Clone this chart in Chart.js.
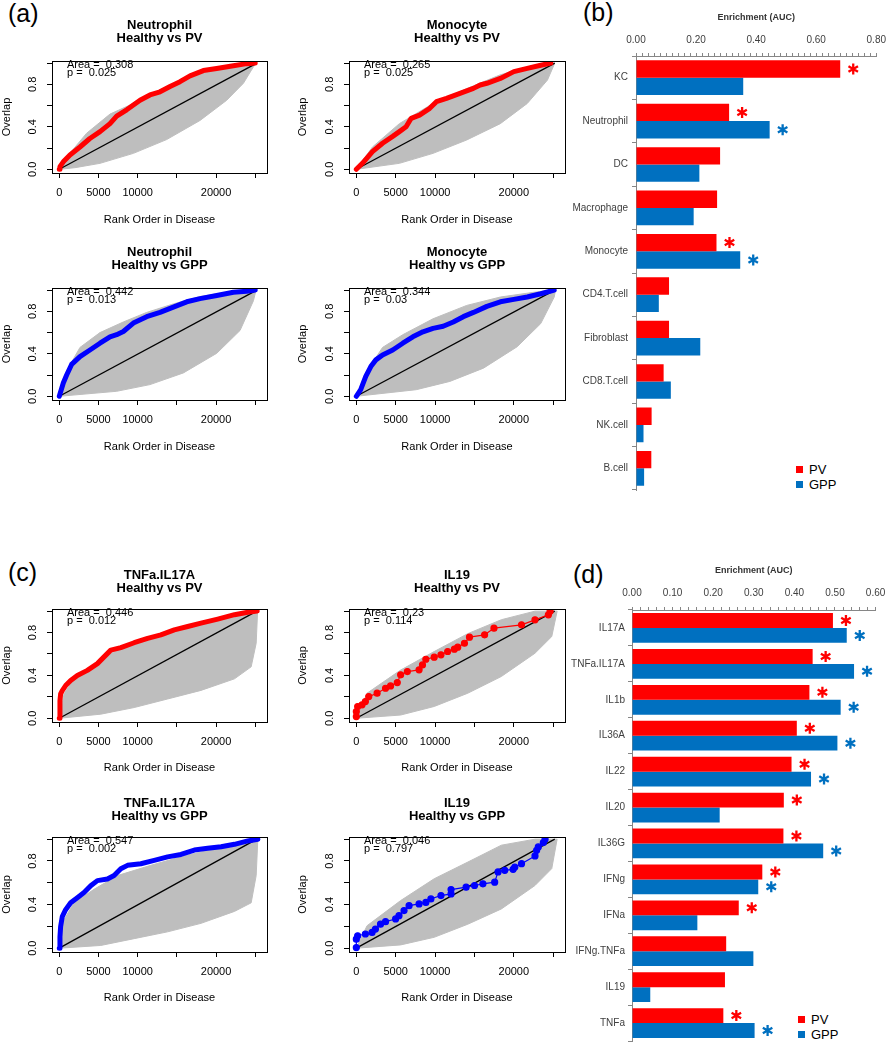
<!DOCTYPE html>
<html lang="en">
<head>
<meta charset="UTF-8">
<title>Enrichment of cell-type and cytokine signatures</title>
<script src="https://cdn.jsdelivr.net/npm/chart.js@4"></script>
<style>
    body { margin: 0; background: #fff; }
    #page { position: relative; width: 893px; height: 1050px; overflow: hidden; font-family: "Liberation Sans", Arial, sans-serif; }
    #page canvas, .lbl, .leg { position: absolute; }
    .lbl { font-size: 25px; line-height: 25px; color: #000; }
    .leg { font-size: 13px; line-height: 15px; color: #000; }
    .leg span { display: inline-block; width: 7px; height: 7px; margin-right: 6px; vertical-align: 1px; }
</style>
</head>
<body>
<div id="page">
    <div class="lbl" style="left:8px;top:1px">(a)</div>
    <div class="lbl" style="left:583px;top:0px">(b)</div>
    <div class="lbl" style="left:8px;top:560px">(c)</div>
    <div class="lbl" style="left:573px;top:562px">(d)</div>
    <div class="leg" style="left:796px;top:462px"><div><span style="background:#FF0000"></span>PV</div><div><span style="background:#0070C0"></span>GPP</div></div>
    <div class="leg" style="left:798px;top:1012px"><div><span style="background:#FF0000"></span>PV</div><div><span style="background:#0070C0"></span>GPP</div></div>
</div>

<script>
// ---- rank / overlap curves (rank in disease, overlap) ----
const NEUT_PV = [[0,0],[85,0.025],[510,0.07],[1360,0.135],[2640,0.21],[3900,0.29],[5200,0.355],[6470,0.43],[7320,0.5],[8600,0.56],[10300,0.65],[11570,0.7],[12850,0.73],[14130,0.78],[15400,0.825],[16680,0.88],[18380,0.93],[20080,0.95],[22210,0.975],[23900,0.995],[25000,1.0]];
const NEUT_PV_HI = [[0,0],[1000,0.12],[3490,0.34],[6470,0.52],[9450,0.62],[12850,0.75],[15830,0.84],[20090,0.95],[25000,1.0]];
const NEUT_PV_LO = [[0,0],[2000,0.015],[5200,0.056],[9450,0.15],[13700,0.28],[17960,0.46],[21360,0.65],[23490,0.81],[24770,0.965],[25200,1.0]];

const MONO_PV = [[0,0],[770,0.056],[2050,0.166],[3330,0.245],[4620,0.31],[5470,0.355],[6320,0.4],[6970,0.48],[8030,0.51],[9320,0.574],[10170,0.637],[11450,0.668],[13160,0.715],[14870,0.762],[15730,0.794],[16580,0.81],[18290,0.856],[20000,0.92],[21710,0.95],[23420,0.98],[24700,1.0]];
const MONO_PV_HI = [[0,0],[2050,0.21],[5470,0.43],[9740,0.62],[14020,0.76],[18290,0.89],[22560,0.98],[25200,1.0]];
const MONO_PV_LO = [[0,0],[5470,0.056],[9740,0.15],[14020,0.276],[18290,0.43],[21710,0.62],[24270,0.84],[25200,1.0]];

const NEUT_GPP = [[0,0],[510,0.125],[940,0.2],[1570,0.3],[2640,0.374],[3910,0.436],[5190,0.5],[6470,0.56],[7320,0.58],[8170,0.61],[9450,0.69],[11150,0.75],[12850,0.79],[14550,0.84],[16260,0.89],[17960,0.92],[20090,0.95],[22210,0.98],[23910,0.99],[25000,1.0]];
const NEUT_GPP_HI = [[0,0],[940,0.24],[2640,0.46],[5190,0.6],[8170,0.7],[11150,0.79],[14550,0.87],[17960,0.94],[22210,0.99],[25000,1.0]];
const NEUT_GPP_LO = [[0,0],[7320,0.047],[11570,0.11],[15830,0.22],[20090,0.405],[23060,0.62],[24770,0.9],[25100,1.0]];

const MONO_GPP = [[0,0],[555,0.062],[1200,0.187],[1840,0.28],[2480,0.343],[3330,0.39],[4620,0.436],[5900,0.5],[7180,0.56],[8460,0.607],[9740,0.64],[11030,0.66],[12310,0.7],[13590,0.75],[14870,0.79],[16580,0.847],[18290,0.89],[20000,0.913],[21710,0.935],[23420,0.966],[25130,1.0]];
const MONO_GPP_HI = [[0,0],[1200,0.22],[3330,0.46],[5900,0.58],[9740,0.73],[14020,0.856],[18290,0.935],[22560,0.98],[25200,1.0]];
const MONO_GPP_LO = [[0,0],[7610,0.062],[11880,0.14],[16150,0.265],[20430,0.467],[23420,0.685],[25130,0.935],[25300,1.0]];

const TNF17_PV = [[0,0],[85,0.164],[170,0.227],[380,0.258],[810,0.305],[1450,0.353],[2300,0.4],[3580,0.447],[4860,0.51],[5710,0.573],[6570,0.636],[7850,0.66],[9550,0.705],[11260,0.746],[12960,0.778],[14670,0.825],[16380,0.857],[18080,0.888],[20210,0.926],[22350,0.967],[24050,0.989],[25250,1.0]];
const TNF17_PV_HI = [[0,0],[600,0.227],[1880,0.37],[4430,0.48],[6570,0.605],[9550,0.7],[13820,0.81],[18080,0.888],[22350,0.957],[25300,1.0]];
const TNF17_PV_LO = [[0,0],[5290,0.038],[9550,0.1],[13820,0.18],[18080,0.26],[22350,0.368],[24480,0.48],[25120,0.7],[25300,1.0]];

const IL19_PV = [[0,0.016],[0,0.062],[170,0.109],[725,0.125],[1150,0.156],[1580,0.202],[2640,0.234],[3710,0.28],[4350,0.302],[5200,0.333],[5630,0.405],[6480,0.436],[7970,0.452],[8400,0.498],[8830,0.551],[9890,0.57],[10750,0.592],[11600,0.623],[12450,0.645],[12880,0.664],[13730,0.7],[14370,0.757],[16290,0.779],[17480,0.841],[20980,0.872],[22690,0.919],[24390,0.966],[24610,1.0]];
const IL19_PV_HI = [[0,0],[1360,0.234],[5630,0.45],[9890,0.623],[14160,0.79],[18420,0.92],[22690,1.0],[25460,1.0]];
const IL19_PV_LO = [[0,0],[5630,0.03],[9890,0.11],[14160,0.234],[18420,0.39],[22690,0.607],[24820,0.763],[25500,1.0]];

const TNF17_GPP = [[0,0],[85,0.103],[170,0.197],[380,0.29],[810,0.353],[1450,0.416],[2300,0.4625],[3160,0.51],[4010,0.572],[4860,0.62],[6140,0.634],[6990,0.666],[7850,0.728],[8700,0.76],[10400,0.775],[12110,0.806],[13820,0.8375],[15520,0.86],[17230,0.9],[18930,0.916],[20640,0.93],[22350,0.953],[24050,0.984],[25330,1.0]];
const TNF17_GPP_HI = [[0,0],[600,0.26],[1880,0.416],[4430,0.54],[7420,0.666],[11680,0.76],[15950,0.847],[20210,0.916],[25330,1.0]];
const TNF17_GPP_LO = [[0,0],[5290,0.025],[9550,0.0875],[13820,0.15],[18080,0.228],[22350,0.3375],[24480,0.416],[25120,0.666],[25330,1.0]];

const IL19_GPP = [[0,0.006],[0,0.083],[170,0.114],[1150,0.13],[2000,0.145],[2430,0.175],[3070,0.22],[3710,0.243],[4990,0.268],[5420,0.298],[6060,0.345],[6700,0.39],[7970,0.406],[8830,0.42],[9470,0.452],[10750,0.483],[12030,0.498],[12030,0.538],[13940,0.56],[15010,0.575],[16080,0.59],[17570,0.606],[18000,0.7],[18850,0.714],[19910,0.723],[20130,0.745],[20980,0.775],[22690,0.846],[22900,0.898],[23110,0.929],[23750,0.969],[23970,1.0]];
const IL19_GPP_HI = [[0,0],[1360,0.206],[5630,0.437],[9890,0.637],[14160,0.79],[18420,0.945],[22690,1.0],[25460,1.0]];
const IL19_GPP_LO = [[0,0],[5630,0.03],[9890,0.1],[14160,0.22],[18420,0.36],[22690,0.575],[24820,0.73],[25500,1.0]];

const N_GENES = 25200;
const X_TICKS = [0, 5000, 10000, 15000, 20000, 25000];
const X_TICK_LABELS = ['0', '5000', '10000', '', '20000', ''];
const Y_TICKS = [0, 0.2, 0.4, 0.6, 0.8, 1.0];
const Y_TICK_LABELS = ['0.0', '', '0.4', '', '0.8', ''];

// ---- enrichment bars ----
const CELL_TYPES = ['KC', 'Neutrophil', 'DC', 'Macrophage', 'Monocyte', 'CD4.T.cell', 'Fibroblast', 'CD8.T.cell', 'NK.cell', 'B.cell'];
const CELL_PV = [0.68, 0.31, 0.28, 0.27, 0.268, 0.11, 0.11, 0.092, 0.052, 0.051];
const CELL_GPP = [0.357, 0.445, 0.211, 0.192, 0.347, 0.076, 0.214, 0.116, 0.025, 0.027];
const CELL_PV_SIG = [1, 1, 0, 0, 1, 0, 0, 0, 0, 0];
const CELL_GPP_SIG = [0, 1, 0, 0, 1, 0, 0, 0, 0, 0];
const CELL_TICK_LABELS = ['0.00', '0.20', '0.40', '0.60', '0.80'];

const CYTOKINES = ['IL17A', 'TNFa.IL17A', 'IL1b', 'IL36A', 'IL22', 'IL20', 'IL36G', 'IFNg', 'IFNa', 'IFNg.TNFa', 'IL19', 'TNFa'];
const CYTO_PV = [0.495, 0.445, 0.437, 0.406, 0.393, 0.374, 0.373, 0.321, 0.263, 0.232, 0.229, 0.225];
const CYTO_GPP = [0.529, 0.547, 0.514, 0.506, 0.441, 0.216, 0.471, 0.311, 0.161, 0.299, 0.045, 0.302];
const CYTO_PV_SIG = [1, 1, 1, 1, 1, 1, 1, 1, 1, 0, 0, 1];
const CYTO_GPP_SIG = [1, 1, 1, 1, 1, 0, 1, 1, 0, 0, 0, 1];
const CYTO_TICK_LABELS = ['0.00', '0.10', '0.20', '0.30', '0.40', '0.50', '0.60'];

const FONT = '"Liberation Sans", Arial, sans-serif';
const RED = '#FF0000', BLUE = '#0000FF', BAR_BLUE = '#0070C0', GREY = '#BEBEBE';
const AXIS = '#868686', TXT = '#404040';

function pts(a) { return a.map(p => ({x: p[0], y: p[1]})); }

// box, rotated y labels and the Area/p note of the R panels
const rPlot = {
    id: 'rPlot',
    afterDraw(chart, args, opts) {
        const {ctx, chartArea: a, scales: {y}} = chart;
        ctx.save();
        ctx.strokeStyle = '#000';
        ctx.lineWidth = 1;
        ctx.strokeRect(Math.round(a.left) + 0.5, Math.round(a.top) + 0.5, Math.round(a.right - a.left), Math.round(a.bottom - a.top));
        ctx.fillStyle = '#000';
        ctx.font = '11px ' + FONT;
        ctx.textAlign = 'center';
        ctx.textBaseline = 'middle';
        Y_TICK_LABELS.forEach((t, i) => {
            if (!t) return;
            ctx.save();
            ctx.translate(a.left - 19, y.getPixelForValue(Y_TICKS[i]));
            ctx.rotate(-Math.PI / 2);
            ctx.fillText(t, 0, 0);
            ctx.restore();
        });
        ctx.textAlign = 'left';
        ctx.fillText('Area =  ' + opts.area, a.left + 15, a.top + 3.5);
        ctx.fillText('p =  ' + opts.p, a.left + 15, a.top + 12);
        ctx.restore();
    }
};

function drawStar(ctx, cx, cy, color) {
    ctx.save();
    ctx.strokeStyle = color;
    ctx.lineWidth = 2.3;
    ctx.beginPath();
    for (let k = 0; k < 3; k++) {
        const ang = Math.PI / 2 + k * Math.PI / 3;
        const dx = 5.5 * Math.cos(ang), dy = 5.5 * Math.sin(ang);
        ctx.moveTo(cx - dx, cy - dy);
        ctx.lineTo(cx + dx, cy + dy);
    }
    ctx.stroke();
    ctx.restore();
}

const stars = {
    id: 'stars',
    afterDatasetsDraw(chart) {
        chart.data.datasets.forEach((ds, di) => {
            chart.getDatasetMeta(di).data.forEach((bar, j) => {
                if (ds.sig[j]) drawStar(chart.ctx, bar.x + 13, bar.y, ds.backgroundColor);
            });
        });
    }
};

function addCanvas(left, top, w, h) {
    const cv = document.createElement('canvas');
    cv.width = w; cv.height = h;
    cv.style.left = left + 'px';
    cv.style.top = top + 'px';
    document.getElementById('page').appendChild(cv);
    return cv;
}

function makeLine(P) {
    const cv = addCanvas(P.left, P.top, P.w, P.h);
    const [bl, bt, br, bb] = P.box;
    const shape = P.hi.concat(P.lo.slice().reverse());
    new Chart(cv, {
        type: 'line',
        data: {
            datasets: [
                { data: pts(P.curve), borderColor: P.color, backgroundColor: P.color,
                  borderWidth: P.sparse ? 1.2 : 5, pointRadius: P.sparse ? 3 : 0,
                  borderJoinStyle: 'round', borderCapStyle: 'round' },
                { data: pts([[0, 0], [N_GENES, 1]]), borderColor: '#000', borderWidth: 1.3, pointRadius: 0 },
                { data: pts(shape), borderColor: GREY, backgroundColor: GREY, borderWidth: 1, pointRadius: 0, fill: 'shape' }
            ]
        },
        options: {
            responsive: false,
            animation: false,
            events: [],
            layout: { padding: { left: 0, top: 0, right: P.left + P.w - br, bottom: 0 } },
            plugins: {
                legend: { display: false },
                tooltip: { enabled: false },
                title: {
                    display: true, text: [P.name, P.cmp], fullSize: false, color: '#000',
                    font: { family: FONT, size: 13, weight: 'bold', lineHeight: 1 },
                    padding: { top: 18.5, bottom: bt - P.top - 44.5 }
                },
                rPlot: { area: P.area, p: P.p }
            },
            scales: {
                x: {
                    type: 'linear', min: -930, max: 26500,
                    afterBuildTicks: s => { s.ticks = X_TICKS.map(v => ({value: v})); },
                    afterFit: s => { s.height = P.top + P.h - bb; },
                    ticks: { autoSkip: false, maxRotation: 0, padding: 8.4, color: '#000',
                             font: { family: FONT, size: 11 }, callback: (v, i) => X_TICK_LABELS[i] },
                    grid: { drawOnChartArea: false, tickLength: 5, color: '#000' },
                    border: { display: false },
                    title: { display: true, text: 'Rank Order in Disease', color: '#000',
                             font: { family: FONT, size: 11 }, padding: { top: 0, bottom: 3.4 } }
                },
                y: {
                    type: 'linear', min: -0.035, max: 1.02,
                    afterBuildTicks: s => { s.ticks = Y_TICKS.map(v => ({value: v})); },
                    afterFit: s => { s.width = bl - P.left; },
                    ticks: { display: false },
                    grid: { drawOnChartArea: false, tickLength: 5, color: '#000' },
                    border: { display: false },
                    title: { display: true, text: 'Overlap', color: '#000',
                             font: { family: FONT, size: 11 }, padding: { top: P.left ? 1.4 : 0, bottom: 0 } }
                }
            }
        },
        plugins: [rPlot]
    });
}

function makeBars(B) {
    const cv = addCanvas(B.left, B.top, B.w, B.h);
    const [bl, bt, br, bb] = B.box;
    const every = Math.round(B.step / 0.02);
    const nMinor = Math.round(B.max / 0.02);
    new Chart(cv, {
        type: 'bar',
        data: {
            labels: B.labels,
            datasets: [
                { label: 'PV', data: B.pv, backgroundColor: RED, sig: B.pvSig },
                { label: 'GPP', data: B.gpp, backgroundColor: BAR_BLUE, sig: B.gppSig }
            ]
        },
        options: {
            indexAxis: 'y',
            responsive: false,
            animation: false,
            events: [],
            layout: { padding: { left: 0, top: 0, right: B.left + B.w - br, bottom: B.top + B.h - bb } },
            datasets: { bar: { categoryPercentage: B.cat, barPercentage: 1 } },
            plugins: { legend: { display: false }, tooltip: { enabled: false } },
            scales: {
                x: {
                    type: 'linear', position: 'top', min: 0, max: B.max,
                    afterBuildTicks: s => {
                        s.ticks = [];
                        for (let i = 0; i <= nMinor; i++) s.ticks.push({value: i * 0.02});
                    },
                    afterFit: s => { s.height = bt - B.top; },
                    ticks: { autoSkip: false, maxRotation: 0, padding: B.tickPad, color: TXT,
                             font: { family: FONT, size: 10 },
                             callback: (v, i) => i % every === 0 ? B.tickLabels[i / every] : '' },
                    grid: { drawOnChartArea: false, tickLength: 3, color: AXIS },
                    border: { color: AXIS },
                    title: { display: true, text: 'Enrichment (AUC)', color: '#333',
                             font: { family: FONT, size: 9, weight: 'bold' }, padding: { top: B.titlePad, bottom: 0 } }
                },
                y: {
                    afterFit: s => { s.width = bl - B.left; },
                    ticks: { autoSkip: false, padding: B.labelPad, color: TXT, font: { family: FONT, size: 10 } },
                    grid: { drawOnChartArea: false, tickLength: 4, color: AXIS, offset: true },
                    border: { color: AXIS }
                }
            }
        },
        plugins: [stars]
    });
}

const LINE_PANELS = [
    { name: 'Neutrophil', cmp: 'Healthy vs PV', curve: NEUT_PV, hi: NEUT_PV_HI, lo: NEUT_PV_LO, color: RED, area: '0.308', p: '0.025',
      left: 0, top: 0, w: 290, h: 230, box: [52, 61, 267, 173] },
    { name: 'Monocyte', cmp: 'Healthy vs PV', curve: MONO_PV, hi: MONO_PV_HI, lo: MONO_PV_LO, color: RED, area: '0.265', p: '0.025',
      left: 295, top: 0, w: 280, h: 230, box: [349, 61, 565, 173] },
    { name: 'Neutrophil', cmp: 'Healthy vs GPP', curve: NEUT_GPP, hi: NEUT_GPP_HI, lo: NEUT_GPP_LO, color: BLUE, area: '0.442', p: '0.013',
      left: 0, top: 227, w: 290, h: 230, box: [52, 288, 267, 400] },
    { name: 'Monocyte', cmp: 'Healthy vs GPP', curve: MONO_GPP, hi: MONO_GPP_HI, lo: MONO_GPP_LO, color: BLUE, area: '0.344', p: '0.03',
      left: 295, top: 227, w: 280, h: 230, box: [349, 288, 565, 400] },
    { name: 'TNFa.IL17A', cmp: 'Healthy vs PV', curve: TNF17_PV, hi: TNF17_PV_HI, lo: TNF17_PV_LO, color: RED, area: '0.446', p: '0.012',
      left: 0, top: 550, w: 290, h: 228, box: [52, 609, 267, 722] },
    { name: 'IL19', cmp: 'Healthy vs PV', curve: IL19_PV, hi: IL19_PV_HI, lo: IL19_PV_LO, color: RED, area: '0.23', p: '0.114', sparse: true,
      left: 295, top: 550, w: 280, h: 228, box: [349, 609, 565, 722] },
    { name: 'TNFa.IL17A', cmp: 'Healthy vs GPP', curve: TNF17_GPP, hi: TNF17_GPP_HI, lo: TNF17_GPP_LO, color: BLUE, area: '0.547', p: '0.002',
      left: 0, top: 778, w: 290, h: 230, box: [52, 837, 267, 952] },
    { name: 'IL19', cmp: 'Healthy vs GPP', curve: IL19_GPP, hi: IL19_GPP_HI, lo: IL19_GPP_LO, color: BLUE, area: '0.046', p: '0.797', sparse: true,
      left: 295, top: 778, w: 280, h: 230, box: [349, 837, 565, 952] }
];

LINE_PANELS.forEach(makeLine);

makeBars({ labels: CELL_TYPES, pv: CELL_PV, gpp: CELL_GPP, pvSig: CELL_PV_SIG, gppSig: CELL_GPP_SIG,
           tickLabels: CELL_TICK_LABELS, max: 0.8, step: 0.2, cat: 0.8, tickPad: 7, titlePad: 12.6, labelPad: 4,
           left: 540, top: 0, w: 353, h: 500, box: [636, 56, 881, 497] });

makeBars({ labels: CYTOKINES, pv: CYTO_PV, gpp: CYTO_GPP, pvSig: CYTO_PV_SIG, gppSig: CYTO_GPP_SIG,
           tickLabels: CYTO_TICK_LABELS, max: 0.6, step: 0.1, cat: 0.83, tickPad: 7.7, titlePad: 15.6, labelPad: 3,
           left: 540, top: 550, w: 353, h: 500, box: [632, 610, 883, 1048] });
</script>
</body>
</html>
